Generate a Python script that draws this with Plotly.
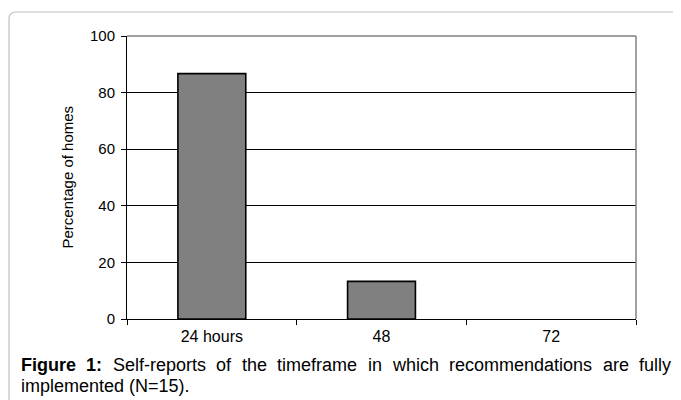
import plotly.graph_objects as go

categories = ["24 hours", "48", "72"]
percentages = [86.7, 13.3, 0]
y_ticks = [0, 20, 40, 60, 80, 100]
y_title = "Percentage of homes"
caption_bold_words = ["Figure", "1:"]
caption_line1_words = ["Self-reports", "of", "the", "timeframe", "in", "which",
                       "recommendations", "are", "fully"]
caption_line2 = "implemented (N=15)."

# page is rendered with an 8px body margin
OFF = 8
W, H = 681 - OFF, 400 - OFF
PL, PR, PT, PB = 127, 636, 36, 319          # plot area in page pixels
L, R, T, B = PL - OFF, W - (PR - OFF), PT - OFF, H - (PB - OFF)
pw, ph = W - L - R, H - T - B

def px(x):
    return (x - OFF - L) / pw

def py(y):
    return (H - (y - OFF) - B) / ph

fig = go.Figure()
fig.add_trace(go.Bar(
    x=categories, y=percentages, width=0.4,
    marker=dict(color="#808080",
                line=dict(color="black",
                          width=[1.6 if v > 0 else 0 for v in percentages])),
))

FONT = "Liberation Sans, Arial, sans-serif"
axis_font = dict(family=FONT, size=15, color="black")
xtick_font = dict(family=FONT, size=16, color="black")
fig.update_layout(
    width=W, height=H,
    margin=dict(l=L, r=R, t=T, b=B),
    paper_bgcolor="white", plot_bgcolor="white",
    showlegend=False,
    xaxis=dict(
        type="category", tickson="boundaries", ticks="outside", ticklen=5,
        tickcolor="black", showline=True, linecolor="black", linewidth=1,
        showgrid=False, tickfont=xtick_font, ticklabelstandoff=3,
    ),
    yaxis=dict(
        range=[0, 100], tickvals=y_ticks, ticks="outside", ticklen=5,
        tickcolor="black", showline=True, linecolor="black", linewidth=1,
        showgrid=True, gridcolor="black", gridwidth=1, zeroline=False,
        tickfont=axis_font, ticklabelstandoff=3,
    ),
)

fig.add_annotation(xref="paper", yref="paper", x=px(67), y=0.5,
                   textangle=-90, showarrow=False, text=y_title, font=axis_font,
                   xanchor="center", yanchor="middle")

# plot area border (gray top and right)
fig.add_shape(type="line", xref="paper", yref="paper", x0=0, x1=1, y0=1, y1=1,
              line=dict(color="#808080", width=1.5), layer="above")
fig.add_shape(type="line", xref="paper", yref="paper", x0=1, x1=1, y0=0, y1=1,
              line=dict(color="#808080", width=1.5), layer="above")

# outer rounded frame
x0, x1 = px(9), px(720)
y0, y1 = py(430), py(12)
rx, ry = 7 / pw, 7 / ph
path = (f"M {x0},{y0} L {x0},{y1 - ry} Q {x0},{y1} {x0 + rx},{y1} "
        f"L {x1},{y1}")
fig.add_shape(type="path", xref="paper", yref="paper", path=path,
              line=dict(color="#c0c0c0", width=1.2), layer="below")

# caption, line 1 justified using Arial metrics
CAP = 18
REG = {" ": 278, "a": 556, "c": 500, "d": 556, "e": 556, "f": 278, "h": 556,
       "i": 222, "l": 222, "m": 833, "n": 556, "o": 556, "p": 556, "r": 333,
       "s": 500, "t": 278, "u": 556, "w": 722, "y": 500, "S": 667, "-": 333}
BOLD = {"F": 611, "i": 278, "g": 611, "u": 611, "r": 389, "e": 556, "1": 556, ":": 333}

def width(word, table):
    return sum(table.get(c, 556) for c in word) * CAP / 1000

words = [(w, True) for w in caption_bold_words] + [(w, False) for w in caption_line1_words]
widths = [width(w, BOLD if b else REG) for w, b in words]
x_start, x_end = 21, 671
gap = (x_end - x_start - sum(widths)) / (len(words) - 1)
cap_font = dict(family=FONT, size=CAP, color="black")
xpos = x_start
n = len(words)
for i, ((w, b), wd) in enumerate(zip(words, widths)):
    if i == 0:
        xa, xx = "left", xpos
    elif i == n - 1:
        xa, xx = "right", x_end
    else:
        xa, xx = "center", xpos + wd / 2
    fig.add_annotation(xref="paper", yref="paper", x=px(xx), y=py(365),
                       xanchor=xa, yanchor="middle", showarrow=False,
                       text=f"<b>{w}</b>" if b else w, font=cap_font,
                       borderpad=0, borderwidth=0)
    xpos += wd + gap

fig.add_annotation(xref="paper", yref="paper", x=px(x_start), y=py(386),
                   xanchor="left", yanchor="middle", showarrow=False,
                   text=caption_line2, font=cap_font, borderpad=0, borderwidth=0)

fig.write_html("out.html")
